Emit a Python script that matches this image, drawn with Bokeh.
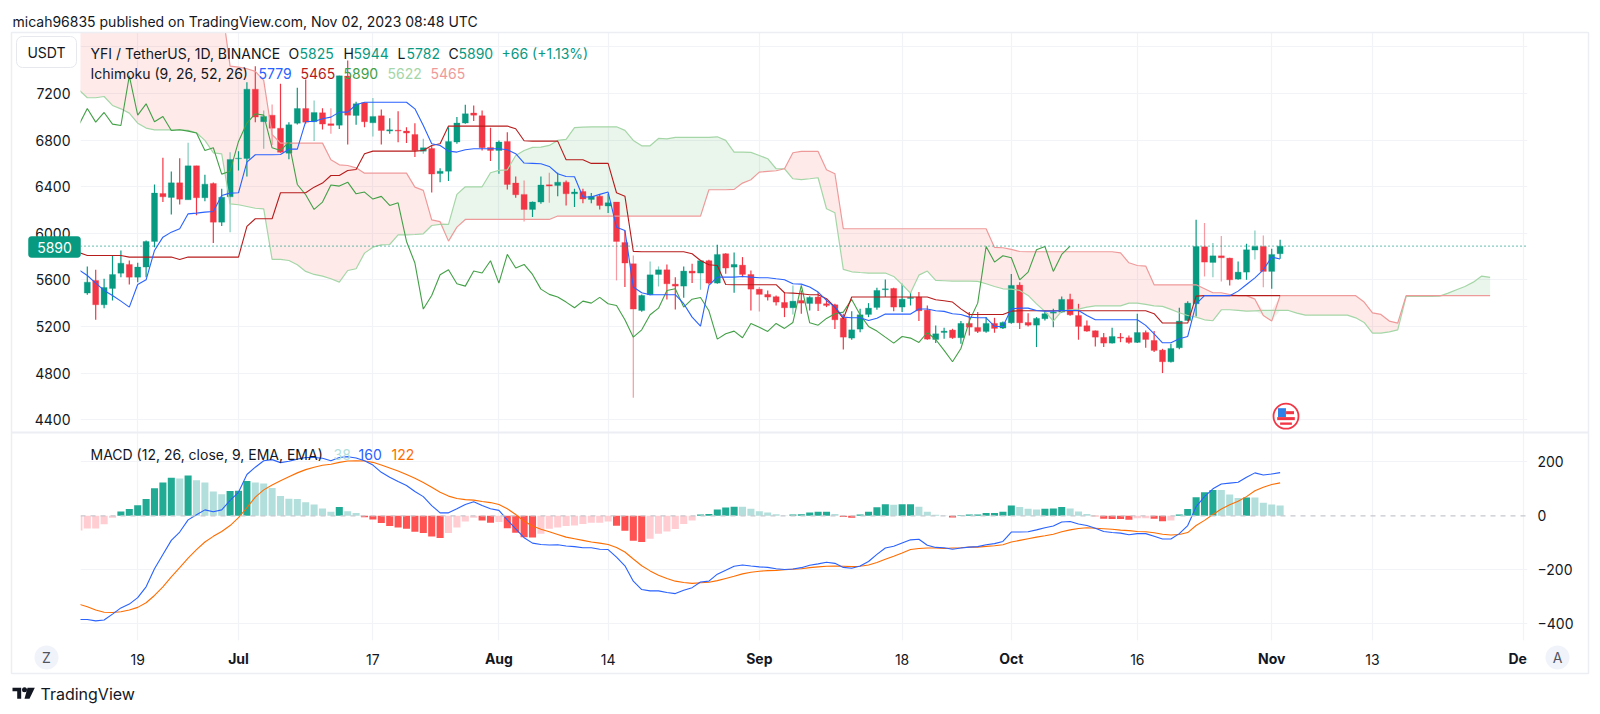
import numpy as np
import pandas as pd
from bokeh.embed import file_html
from bokeh.layouts import column
from bokeh.models import BoxAnnotation, FixedTicker, Label, LinearAxis, Range1d, Span
from bokeh.plotting import figure
from bokeh.resources import INLINE

# ---------------------------------------------------------------- data
first_day = "2023-06-12"
tick_dates = ["2023-06-19", "2023-07-17", "2023-08-14", "2023-09-18", "2023-10-16", "2023-11-13"]
tick_text = ["19", "17", "14", "18", "16", "13"]
month_dates = ["2023-07-01", "2023-08-01", "2023-09-01", "2023-10-01", "2023-11-01"]
month_text = ["Jul", "Aug", "Sep", "Oct", "Nov"]
clipped_month_date = "2023-12-01"
clipped_month_text = "De"
price_ticks = [4400, 4800, 5200, 5600, 6000, 6400, 6800, 7200, 7600]
macd_ticks = [-400, -200, 0, 200]
last_close = 5890

# candles, 13 Jun .. 2 Nov
opens = [5487,5595,5387,5527,5658,5733,5624,5710,5930,6342,6308,6433,6288,6579,6305,6428,6096,6313,
 6639,6642,7237,6957,7014,6902,6688,6945,7071,6957,7034,6940,6928,7349,7011,7120,6948,7008,6877,6885,6877,6848,6705,6728,6513,6533,6783,6946,7032,7009,6737,
 6711,6788,6431,6334,6205,6268,6417,6411,6439,6339,6359,6291,6319,6234,6268,5922,5739,5338,5473,5647,5687,5564,5547,5676,5659,5765,5573,5825,5710,5727,5647,
 5521,5476,5456,5407,5361,5424,5398,5453,5396,5387,5272,5101,5178,5304,5364,5516,5527,5367,5441,5453,5341,5089,5149,5170,5104,5227,5192,5158,5227,5187,
 5232,5556,5235,5212,5267,5315,5324,5433,5295,5207,5164,5107,5058,5109,5104,5064,5149,5081,4998,4898,5018,5252,5395,5884,5750,5807,5787,5607,5667,5856,5887,
 5673,5825]
closes = [5581,5387,5535,5647,5744,5624,5710,5930,6345,6313,6433,6293,6579,6305,6422,6096,6310,6634,
 6645,7237,6997,7003,6902,6696,6931,7071,6954,7037,6937,6925,7351,7014,7111,6957,7003,6882,6888,6877,6860,6711,6734,6508,6533,6788,6946,7026,7014,6734,6711,
 6783,6419,6331,6205,6268,6414,6405,6439,6339,6354,6294,6317,6239,6262,5930,5745,5350,5467,5644,5687,5567,5547,5676,5659,5765,5573,5819,5702,5733,5647,5521,
 5476,5453,5410,5361,5418,5401,5450,5396,5381,5258,5109,5172,5301,5358,5510,5524,5367,5435,5450,5335,5092,5138,5161,5104,5227,5195,5158,5227,5184,5235,
 5553,5232,5212,5270,5310,5324,5433,5301,5201,5161,5109,5058,5115,5101,5064,5149,5089,4995,4898,5012,5247,5401,5887,5753,5807,5790,5601,5667,5859,5887,5673,
 5819,5890]
highs = [5716,5687,5610,5810,5853,5767,5747,5939,6419,6648,6531,6645,6777,6579,6502,6436,6382,6696,
 6705,7297,7434,7054,7105,7283,6954,7248,7320,7140,7074,7074,7351,7483,7128,7125,7160,7063,6988,7048,6911,6945,6811,6754,6559,6911,6997,7103,7097,7054,6906,
 6797,6868,6488,6454,6274,6488,6520,6520,6454,6382,6382,6345,6334,6339,6268,6025,5810,5476,5759,5716,5733,5624,5716,5739,5773,5773,5902,5830,5836,5796,5682,
 5539,5510,5467,5496,5553,5510,5459,5496,5433,5396,5310,5332,5352,5401,5533,5604,5533,5567,5496,5496,5381,5210,5190,5181,5247,5324,5324,5281,5275,5244,
 5650,5581,5315,5281,5338,5352,5458,5481,5395,5252,5167,5144,5190,5144,5124,5310,5167,5161,5009,5052,5361,5418,6116,6088,5916,5976,5790,5759,5910,6025,5982,
 5867,5944]
lows = [5472,5258,5358,5424,5624,5561,5581,5624,5881,6268,6162,6247,6288,6156,6276,5916,6062,6010,
 6539,6488,6954,6725,6757,6691,6636,6934,6940,6791,6891,6854,6894,6762,6931,6911,6831,6762,6854,6782,6774,6654,6682,6350,6439,6448,6768,6940,6963,6711,6620,
 6511,6377,6305,6102,6139,6254,6262,6317,6239,6225,6259,6259,6205,6174,5596,5539,4589,5327,5467,5544,5433,5347,5447,5573,5516,5561,5567,5653,5490,5624,5338,
 5330,5424,5381,5281,5304,5310,5338,5333,5367,5178,5004,5087,5152,5281,5344,5453,5332,5324,5381,5247,5087,5058,5095,5095,5052,5124,5144,5147,5147,5178,
 5224,5178,5201,5024,5252,5195,5318,5292,5087,5155,5029,5024,5055,5066,5052,5058,5018,4981,4801,4892,5006,5247,5287,5630,5624,5587,5553,5601,5601,5776,5538,
 5524,5782]
faint_wick_dates = ["2023-06-25","2023-06-30","2023-07-04","2023-07-05","2023-07-10","2023-07-12","2023-07-17","2023-07-23",
 "2023-08-04","2023-08-07","2023-08-15","2023-08-17","2023-08-19","2023-08-20","2023-08-25","2023-09-01","2023-09-05",
 "2023-10-24","2023-10-25","2023-10-26","2023-10-30","2023-10-31"]

# Ichimoku, 12 Jun .. 2 Nov
conversion = [5687,5638,5573,5510,5467,5418,5367,5561,5601,5853,5967,6010,6039,6167,6173,6182,6187,6325,6345,
 6348,6611,6674,6674,6674,6676,6722,6722,6960,6960,6983,6997,7040,7040,7103,7125,7125,7125,7125,7125,7125,7068,6925,6768,6754,6705,6697,6717,6725,6725,6725,
 6725,6717,6683,6603,6600,6597,6574,6511,6488,6485,6311,6311,6334,6354,6053,6025,5539,5490,5473,5473,5473,5473,5396,5281,5204,5553,5624,5624,5624,5630,5624,
 5619,5619,5610,5602,5567,5564,5539,5496,5424,5367,5281,5275,5275,5252,5272,5307,5307,5307,5307,5350,5350,5335,5330,5310,5304,5281,5275,5275,5201,5201,
 5352,5358,5358,5338,5332,5332,5338,5338,5338,5295,5258,5258,5258,5258,5258,5258,5210,5138,5061,5061,5095,5115,5395,5465,5465,5465,5465,5504,5561,5618,5687,
 5796,5779]
base_line = [5836,5810,5810,5810,5810,5810,5796,5796,5796,5796,5796,5796,5776,5796,5796,5796,5796,5796,5796,
 5796,6059,6125,6125,6125,6348,6348,6348,6348,6396,6431,6496,6496,6539,6548,6682,6705,6705,6705,6705,6705,6705,6711,6754,6768,6920,6920,6920,6920,6920,6920,
 6920,6920,6897,6794,6791,6791,6791,6791,6631,6631,6631,6600,6600,6600,6348,6319,5845,5842,5842,5842,5842,5842,5842,5825,5767,5730,5724,5561,5559,5559,5559,
 5559,5559,5559,5490,5487,5481,5473,5473,5439,5367,5267,5453,5453,5453,5453,5453,5453,5453,5453,5453,5453,5430,5421,5410,5352,5304,5304,5304,5304,5304,
 5332,5335,5335,5335,5335,5335,5335,5335,5335,5335,5335,5335,5335,5335,5335,5335,5335,5310,5230,5230,5230,5230,5461,5465,5465,5465,5465,5465,5465,5465,5465,
 5465,5465]
# lagging span, 12 Jun .. 8 Oct
lagging = [6931,7071,6954,7037,6937,6925,7351,7014,7111,6957,7003,6882,6888,6877,6860,6711,6734,6508,6533,
 6788,6946,7026,7014,6734,6711,
 6783,6419,6331,6205,6268,6414,6405,6439,6339,6354,6294,6317,6239,6262,5930,5745,5350,5467,5644,5687,5567,5547,5676,5659,5765,5573,5819,5702,5733,5647,5521,
 5476,5453,5410,5361,5418,5401,5450,5396,5381,5258,5109,5172,5301,5358,5510,5524,5367,5435,5450,5335,5092,5138,5161,5104,5227,5195,5158,5227,5184,5235,
 5553,5232,5212,5270,5310,5324,5433,5301,5201,5161,5109,5058,5115,5101,5064,5149,5089,4995,4898,5012,5247,5401,5887,5753,5807,5790,5601,5667,5859,5887,5673,
 5819,5890]
# leading spans, 12 Jun .. 27 Nov
lead_a = [7231,7163,7163,7174,7097,7068,7031,6945,6903,6888,6888,6888,6888,6883,6863,6797,6691,6682,6253,
 6245,6230,6215,6210,5776,5776,5767,5730,5673,5647,5633,5610,5581,5681,5696,5830,5881,5901,5904,5987,5987,5990,5996,6067,6076,6076,6334,6399,6399,6399,6520,
 6540,6545,6668,6711,6737,6740,6754,6797,6806,6906,6911,6914,6914,6914,6914,6883,6797,6751,6751,6814,6811,6823,6823,6823,6823,6823,6828,6797,6697,6697,6694,
 6668,6640,6554,6554,6468,6460,6468,6477,6211,6176,5690,5670,5664,5659,5659,5659,5630,5561,5487,5641,5676,5596,5593,5590,5590,5590,5587,5567,5544,5524,
 5521,5510,5467,5395,5330,5247,5332,5344,5350,5367,5378,5378,5378,5378,5401,5401,5390,5378,5373,5347,5318,5295,5281,5258,5250,5344,5344,5338,5332,5335,5338,
 5338,5338,5338,5315,5298,5298,5298,5298,5298,5298,5275,5235,5144,5144,5155,5172,5458,5458,5458,5458,5461,5487,5516,5544,5581,5633,5622]
lead_b = ([7960]*18 + [7435] +
 [7426,7412,7389,7312,6848,6774,6774,6774,6774,6774,6774,6631,6588,6582,6562,6516,6516,6516,6516,6516,6516,6396,6368,6116,6100,5933,6053,6119,6119,6119,6119] +
 [6119]*7 + [6148]*18 + [6374,6374,6374,6377,6431,6460] +
 [6525,6531,6537,6554,6691,6703,6703,6703,6545,6511] + [6039]*18 + [5879,5876] +
 [5862,5844] + [5842]*11 + [5833,5747,5724,5719,5558,5558,5558,5558,5558,5558,5524,5490,5490,5475,5465,5465,5435,5295] +
 [5247] + [5465]*10 + [5410,5318,5304,5247,5230] + [5465]*11)

# MACD, 12 Jun .. 2 Nov
hist = [-54,-47,-47,-31,-7,16,25,39,62,102,123,141,138,149,132,123,90,80,92,
 93,129,123,120,103,73,63,62,50,42,27,15,33,17,10,-5,-14,-27,-38,-43,-48,-59,-64,-77,-82,-64,-43,-21,-7,-17,-26,
 -23,-46,-63,-79,-80,-66,-48,-43,-38,-36,-30,-26,-26,-21,-37,-55,-92,-97,-85,-66,-58,-49,-30,-17,5,7,23,31,34,34,26,
 17,12,6,1,5,6,12,15,15,7,-4,-7,5,15,32,43,41,43,43,34,15,4,1,-6,2,5,5,10,10,15,
 38,33,26,23,26,27,33,27,16,7,-2,-11,-12,-12,-15,-9,-9,-11,-20,-17,5,25,69,87,96,96,79,66,68,68,48,
 42,38]
hist_shade = ("LLLLLDDDDDDDLDLLLLD"
              "DDLLLLLLLLLLDLLDDDDDDDDDDLLLLDD"
              "LDDDDLLLLLLLLLDDDDLLLLLLDDDDDLL"
              "LLLLDDDDDLDDDDDDLDDLLLLDDDDDDD"
              "DLLLDDDLLLDDDDDLLDDLDDDDDLLLDLL"
              "LL")
macd_line = [-384,-384,-389,-386,-364,-341,-327,-303,-263,-196,-143,-91,-60,-15,4,22,15,22,57,
 87,153,180,204,208,197,202,210,216,216,213,204,216,219,214,204,188,161,143,127,112,90,71,38,11,11,26,42,52,38,26,
 20,-15,-48,-81,-101,-106,-108,-107,-112,-114,-118,-118,-124,-125,-153,-185,-242,-273,-278,-278,-284,-288,-276,-266,-245,-242,-216,-202,-187,-182,-186,
 -189,-191,-196,-199,-197,-192,-183,-178,-172,-176,-191,-194,-186,-169,-143,-119,-113,-101,-89,-87,-109,-117,-118,-124,-119,-116,-114,-107,-103,-95,
 -60,-60,-59,-52,-44,-38,-23,-21,-30,-36,-46,-58,-62,-64,-70,-66,-66,-76,-86,-86,-66,-36,34,71,100,118,121,124,143,159,151,
 155,160]
signal_line = [-327,-337,-349,-357,-358,-355,-349,-339,-322,-295,-263,-226,-192,-157,-125,-97,-76,-58,-36,
 -7,30,69,96,114,130,145,159,171,180,187,191,198,203,204,203,198,188,177,166,153,139,123,106,87,73,64,60,58,53,49,
 42,26,5,-20,-38,-50,-59,-69,-79,-85,-91,-97,-101,-106,-117,-134,-160,-185,-204,-220,-232,-242,-247,-250,-248,-246,-240,-232,-224,-215,-209,
 -205,-203,-202,-200,-198,-196,-192,-189,-187,-186,-187,-188,-187,-182,-173,-161,-150,-138,-125,-121,-119,-119,-121,-119,-118,-116,-116,-113,-111,-107,
 -97,-91,-85,-79,-74,-68,-59,-52,-47,-44,-46,-48,-50,-53,-55,-58,-59,-63,-68,-71,-69,-62,-36,-17,5,25,41,54,71,93,106,
 116,122]

# ---------------------------------------------------------------- checks and helpers
def check(name, seq, n):
    assert len(seq) == n, f"{name} has {len(seq)} values, expected {n}"

for nm, s in [("opens", opens), ("closes", closes), ("highs", highs), ("lows", lows)]:
    check(nm, s, 143)
for nm, s in [("conversion", conversion), ("base", base_line), ("hist", hist), ("macd", macd_line),
              ("signal", signal_line), ("shade", hist_shade)]:
    check(nm, s, 144)
check("lagging", lagging, 119)
check("lead_a", lead_a, 169)
check("lead_b", lead_b, 169)

origin = pd.Timestamp("2023-07-01")
day_of = lambda d: (pd.Timestamp(d) - origin).days
dates = pd.date_range(first_day, periods=169)
days = np.array((dates - origin).days, dtype=float)
candle_x = days[1:144]
o_, c_, h_, l_ = map(np.array, (opens, closes, highs, lows))

UP, DOWN = "#089981", "#f23645"
TEXT = "#131722"
GRID = "#f1f3f7"
EDGE = "#eceef3"
FONT = "Inter"
FS = "14px"

PAGE_W, PAGE_H = 1600, 714
TOP_H, BOT_H = 432, 282
X_RANGE = (-18.81, 153.45)


def style(fig, grid_ticks):
    fig.outline_line_color = None
    fig.background_fill_color = "white"
    fig.border_fill_color = "white"
    fig.xgrid.ticker = FixedTicker(ticks=grid_ticks)
    fig.xgrid.grid_line_color = GRID
    fig.xgrid.grid_line_width = 1.2
    fig.ygrid.grid_line_color = GRID
    fig.ygrid.grid_line_width = 1.2
    for ax in fig.yaxis:
        ax.axis_line_color = None
        ax.major_tick_line_color = None
        ax.minor_tick_line_color = None
        ax.major_label_standoff = 4
        ax.major_label_text_font = FONT
        ax.major_label_text_font_size = FS
        ax.major_label_text_color = TEXT


all_ticks = sorted([day_of(d) for d in tick_dates + month_dates + [clipped_month_date]])

# ---------------------------------------------------------------- price pane
p = figure(width=PAGE_W, height=TOP_H, output_backend="svg", toolbar_location=None, x_axis_location=None,
           x_range=Range1d(*X_RANGE), y_range=Range1d(4291, 7723),
           min_border_left=80, min_border_right=73, min_border_top=32, min_border_bottom=0)
style(p, all_ticks)
p.yaxis.ticker = FixedTicker(ticks=price_ticks)
p.yaxis.major_label_overrides = {t: (str(t) if t != 7600 else "") for t in price_ticks}
p.ygrid.ticker = FixedTicker(ticks=price_ticks)

a, b = np.array(lead_a, float), np.array(lead_b, float)
p.varea(days, y1=a, y2=np.maximum(a, b), fill_color="#f44336", fill_alpha=0.11)
p.varea(days, y1=a, y2=np.minimum(a, b), fill_color="#43a047", fill_alpha=0.11)
p.add_layout(Span(location=last_close, dimension="width", line_color=UP, line_dash="1 3", line_width=1.2))

faint = {day_of(d) for d in faint_wick_dates}
wick_alpha = [0.5 if d in faint else 1.0 for d in candle_x]
cols = np.where(c_ >= o_, UP, DOWN).tolist()
p.segment(candle_x, l_, candle_x, h_, line_color=cols, line_alpha=wick_alpha, line_width=1.2)
p.vbar(candle_x, top=np.maximum(o_, c_), bottom=np.minimum(o_, c_), width=0.72, fill_color=cols, line_color=cols, line_width=0.3)

p.line(days, a, line_color="#a5d6a7", line_width=1.2)
p.line(days, b, line_color="#ef9a9a", line_width=1.2)
p.line(days[:119], lagging, line_color="#43a047", line_width=1.1)
p.line(days[:144], base_line, line_color="#b71c1c", line_width=1.1)
p.line(days[:144], conversion, line_color="#2962ff", line_width=1.1)

# economic event marker (US flag) near 3 Nov
ev_x, ev_y = 124.7, 4431
p.scatter([ev_x], [ev_y], size=25, marker="circle", fill_color="white", line_color="#f23645", line_width=1.8)
p.rect([ev_x - 0.48], [ev_y + 30], width=0.95, height=77, fill_color="#2f7fe8", line_color=None)
p.rect([ev_x + 0.48], [ev_y + 30], width=0.95, height=26, fill_color="#f23645", line_color=None)
p.rect([ev_x], [ev_y - 21], width=2.1, height=26, fill_color="#f23645", line_color=None)
p.rect([ev_x], [ev_y - 64], width=1.4, height=20, fill_color="#f23645", line_color=None)

# ---------------------------------------------------------------- MACD pane
q = figure(width=PAGE_W, height=BOT_H, output_backend="svg", toolbar_location=None, y_axis_location="right",
           x_range=p.x_range, y_range=Range1d(-461.7, 308.5),
           min_border_left=80, min_border_right=73, min_border_top=0, min_border_bottom=74)
style(q, all_ticks)
q.yaxis.ticker = FixedTicker(ticks=macd_ticks)
q.yaxis.major_label_overrides = {t: str(t).replace("-", "\u2212") for t in macd_ticks}
q.ygrid.ticker = FixedTicker(ticks=[t for t in macd_ticks if t != 0])
q.xaxis.ticker = FixedTicker(ticks=all_ticks)
q.xaxis.major_label_overrides = {**{t: "" for t in all_ticks},
                                 **{day_of(d): t for d, t in zip(tick_dates, tick_text)}}
month_axis = LinearAxis(ticker=FixedTicker(ticks=all_ticks),
                        major_label_overrides={**{t: "" for t in all_ticks},
                                               **{day_of(d): t for d, t in zip(month_dates, month_text)}},
                        major_label_text_font_style="bold")
q.add_layout(month_axis, "below")
for ax, standoff in zip(q.xaxis, (7, -24)):
    ax.axis_line_color = None
    ax.major_tick_line_color = None
    ax.minor_tick_line_color = None
    ax.major_label_standoff = standoff
    ax.major_label_text_font = FONT
    ax.major_label_text_font_size = FS
    ax.major_label_text_color = TEXT

q.add_layout(Span(location=0, dimension="width", line_color="#c6c8cd", line_dash="5 5", line_width=1.2))
shade_colors = {("+", "D"): "#22ab94", ("+", "L"): "#b2dfdb", ("-", "D"): "#ff5252", ("-", "L"): "#ffcdd2"}
hist_cols = [shade_colors[("+" if v >= 0 else "-", s)] for v, s in zip(hist, hist_shade)]
q.vbar(days[:144], top=hist, bottom=0, width=0.84, fill_color=hist_cols, line_color=None)
q.line(days[:144], signal_line, line_color="#ff6d00", line_width=1.1)
q.line(days[:144], macd_line, line_color="#2962ff", line_width=1.1)

# ---------------------------------------------------------------- page-wide overlay for texts and badges
ov = figure(width=PAGE_W, height=PAGE_H, output_backend="svg", toolbar_location=None,
            x_axis_location=None, y_axis_location=None,
            x_range=Range1d(0, PAGE_W), y_range=Range1d(PAGE_H, 0),
            min_border=0, background_fill_alpha=0, border_fill_alpha=0,
            styles={"position": "absolute", "left": "0px", "top": "0px", "pointer-events": "none"})
ov.outline_line_color = None
ov.xgrid.visible = False
ov.ygrid.visible = False


def mk_label(x, y, text, color=TEXT, align="left", size=FS, font_style="normal"):
    ov.add_layout(Label(x=x, y=y, text=text, text_color=color, text_align=align, text_baseline="middle",
                        text_font=FONT, text_font_size=size, text_font_style=font_style))


def mk_box(l, t, r, b, **kw):
    ov.add_layout(BoxAnnotation(left=l, right=r, top=t, bottom=b, line_alpha=1, **kw))


mk_box(11, 32, 1588, 673, fill_alpha=0, line_color=EDGE, line_width=1.5)
ov.segment([11], [432], [1588], [432], line_color=EDGE, line_width=2)

mk_label(12, 21, "micah96835 published on TradingView.com, Nov 02, 2023 08:48 UTC")
mk_label(90, 53, "YFI / TetherUS, 1D, BINANCE")
for x_, txt, col in [(288, "O", TEXT), (299, "5825", UP), (343, "H", TEXT), (353, "5944", UP),
                     (397, "L", TEXT), (406, "5782", UP), (448, "C", TEXT), (458, "5890", UP),
                     (501, "+66 (+1.13%)", UP)]:
    mk_label(x_, 53, txt, color=col)
mk_label(90, 73, "Ichimoku (9, 26, 52, 26)")
for x_, txt, col in [(258, "5779", "#2962ff"), (300, "5465", "#b71c1c"), (343, "5890", "#43a047"),
                     (387, "5622", "#a5d6a7"), (430, "5465", "#ef9a9a")]:
    mk_label(x_, 73, txt, color=col)

mk_box(16, 36, 76, 67, fill_color="white", fill_alpha=1, line_color="#e6e8ee", line_width=1, border_radius=6)
mk_label(46, 52, "USDT", align="center")
mk_box(28, 236, 80, 257, fill_color=UP, fill_alpha=1, line_color=UP, line_width=0.5, border_radius=3)
mk_label(54, 246.5, "5890", color="white", align="center")

mk_label(90, 454, "MACD (12, 26, close, 9, EMA, EMA)")
for x_, txt, col in [(333, "38", "#b2dfdb"), (358, "160", "#2962ff"), (391, "122", "#ff6d00")]:
    mk_label(x_, 454, txt, color=col)

mk_label(1508, 657.7, clipped_month_text, font_style="bold")
ov.scatter([46, 1557], [657, 657], size=24, marker="circle", fill_color="#f0f3fa", line_color=None)
mk_label(46, 657, "Z", color="#50535e", align="center")
mk_label(1557, 657, "A", color="#50535e", align="center")

# TradingView logo and word mark
ov.patch([12, 20.7, 20.7, 16.7, 16.7, 12], [687.3, 687.3, 698.3, 698.3, 690.7, 690.7], fill_color=TEXT, line_color=None)
ov.scatter([24], [689.3], size=5, marker="circle", fill_color=TEXT, line_color=None)
ov.patch([27, 34.3, 29, 24], [687.3, 687.3, 698.3, 698.3], fill_color=TEXT, line_color=None)
mk_label(40, 693, "TradingView", size="16px")

page = column(p, q, spacing=0)
open("out.html", "w").write(file_html((page, ov), INLINE))
